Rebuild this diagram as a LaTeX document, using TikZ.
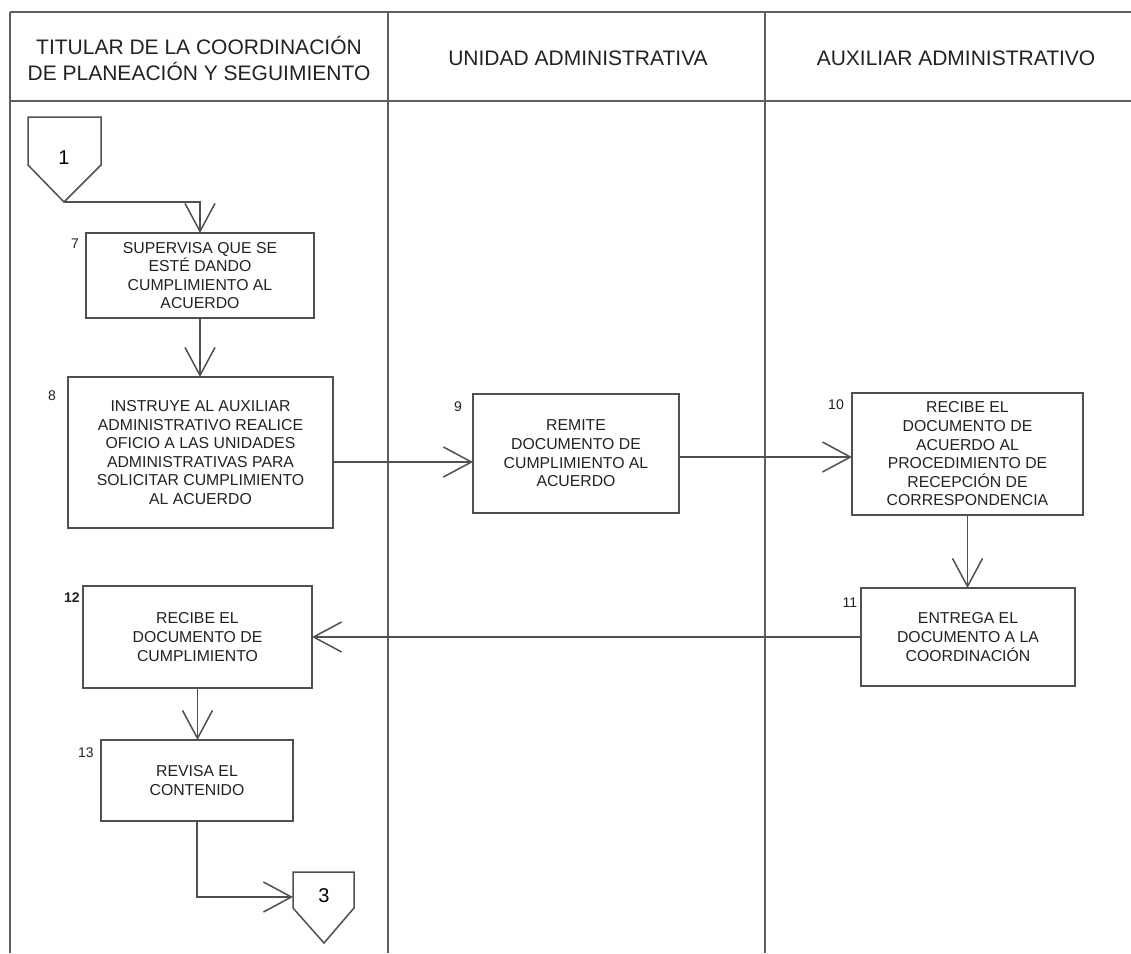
\documentclass[tikz,border=0pt]{standalone}
\usepackage{fontspec}
\setmainfont{Liberation Sans}
\usetikzlibrary{arrows.meta}
\definecolor{linec}{HTML}{505050}
\definecolor{framec}{HTML}{5E5E5E}
\definecolor{textc}{HTML}{222222}
\begin{document}
\begin{tikzpicture}[x=1pt,y=-1pt,
  frame/.style={draw=framec, line width=1.8pt},
  stepbox/.style={draw=linec, line width=1.5pt, rectangle, outer sep=0pt, inner sep=2pt,
    align=center, text=textc, font=\fontsize{15.8}{18.6}\selectfont},
  lanehead/.style={align=center, text=textc, font=\fontsize{21}{26}\selectfont},
  stepnum/.style={text=textc, font=\fontsize{14}{16}\selectfont, inner sep=0pt},
  offpage/.style={draw=linec, line width=1.5pt, fill=white},
  pagenum/.style={text=black, font=\fontsize{20}{22}\selectfont, inner sep=0pt},
  flow/.style={draw=linec, line width=1.5pt,
    -{Straight Barb[length=28pt,width=30pt,line width=1.5pt]}}]

\useasboundingbox (0,0) rectangle (1131,953);
\fill[white] (0,0) rectangle (1131,953);

% swimlane frame
\draw[frame] (10,12) -- (1131,12);
\draw[frame] (10,101) -- (1131,101);
\draw[frame] (10,12) -- (10,953);
\draw[frame] (388,12) -- (388,953);
\draw[frame] (765,12) -- (765,953);

% lane headings
\node[lanehead] (h1) at (199,58) {TITULAR DE LA COORDINACIÓN\\DE PLANEACIÓN Y SEGUIMIENTO};
\node[lanehead] (h2) at (578,58) {UNIDAD ADMINISTRATIVA};
\node[lanehead] (h3) at (956,58) {AUXILIAR ADMINISTRATIVO};

% off-page connector 1
\draw[offpage] (28,117) -- (101,117) -- (101,165) -- (64,202) -- (28,165) -- cycle;
\node[pagenum] (c1) at (64,158) {1};
\coordinate (c1tip) at (64,202);

% process steps
\node[stepbox, minimum width=228pt, minimum height=85pt] (b7) at (200,275.5)
  {SUPERVISA QUE SE\\ESTÉ DANDO\\CUMPLIMIENTO AL\\ACUERDO};
\node[stepbox, minimum width=265pt, minimum height=151pt] (b8) at (200.5,452.5)
  {INSTRUYE AL AUXILIAR\\ADMINISTRATIVO REALICE\\OFICIO A LAS UNIDADES\\ADMINISTRATIVAS PARA\\SOLICITAR CUMPLIMIENTO\\AL ACUERDO};
\node[stepbox, minimum width=206pt, minimum height=119pt] (b9) at (576,453.5)
  {REMITE\\DOCUMENTO DE\\CUMPLIMIENTO AL\\ACUERDO};
\node[stepbox, minimum width=231pt, minimum height=122pt] (b10) at (967.5,454)
  {RECIBE EL\\DOCUMENTO DE\\ACUERDO AL\\PROCEDIMIENTO DE\\RECEPCIÓN DE\\CORRESPONDENCIA};
\node[stepbox, minimum width=214pt, minimum height=98pt] (b11) at (968,637)
  {ENTREGA EL\\DOCUMENTO A LA\\COORDINACIÓN};
\node[stepbox, minimum width=229pt, minimum height=102pt] (b12) at (197.5,637)
  {RECIBE EL\\DOCUMENTO DE\\CUMPLIMIENTO};
\node[stepbox, minimum width=192pt, minimum height=81pt] (b13) at (197,780.5)
  {REVISA EL\\CONTENIDO};

% step numbers
\node[stepnum] (n7) at (75,244) {7};
\node[stepnum] (n8) at (52,396) {8};
\node[stepnum] (n9) at (458,407) {9};
\node[stepnum] (n10) at (836,405) {10};
\node[stepnum] (n11) at (850,603) {11};
\node[stepnum, font=\fontsize{14}{16}\bfseries] (n12) at (72,598) {12};
\node[stepnum] (n13) at (86,753) {13};

% off-page connector 3
\draw[offpage] (293,872) -- (354,872) -- (354,908) -- (324,943) -- (293,908) -- cycle;
\node[pagenum] (c3) at (324,896) {3};
\coordinate (c3in) at (293,897);

% connector rows
\coordinate (r89) at (400,462);
\coordinate (r910) at (700,457);

% flow lines
\draw[flow] (c1tip) -| (b7.north);
\draw[flow] (b7.south) -- (b7.south |- b8.north);
\draw[flow] (b8.east |- r89) -- (b9.west |- r89);
\draw[flow] (b9.east |- r910) -- (b10.west |- r910);
\draw[flow] (b10.south) -- (b10.south |- b11.north);
\draw[flow] (b11.west) -- (b12.east);
\draw[flow] (b12.south) -- (b12.south |- b13.north);
\draw[flow] (b13.south) |- (c3in);

\end{tikzpicture}
\end{document}
